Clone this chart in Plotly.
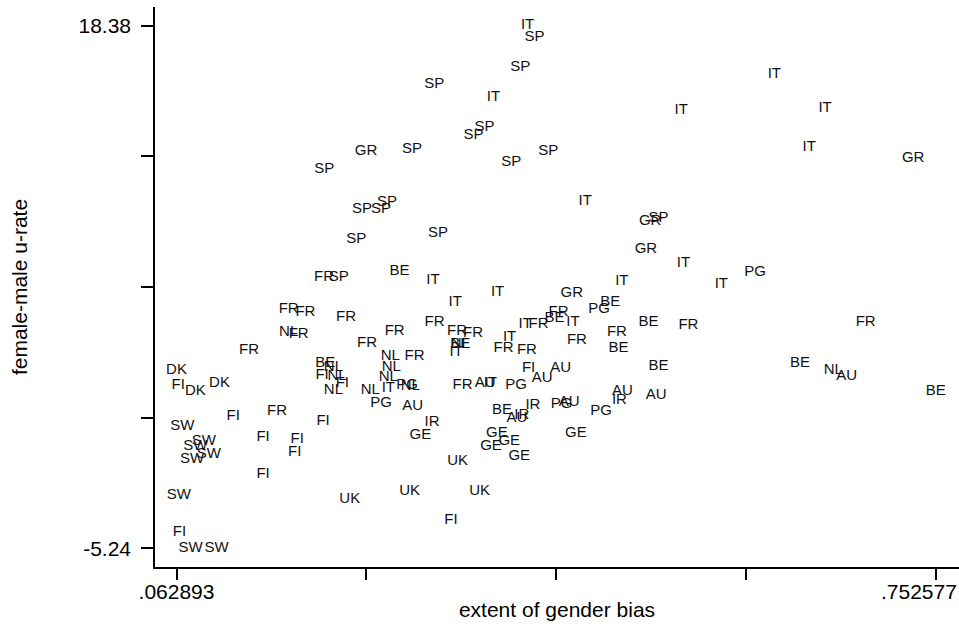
import plotly.graph_objects as go

# ---- data (extent of gender bias, female-male unemployment rate gap, country code) ----
countries = (
    ["SP"] * 16 + ["IT"] * 19 + ["GR"] * 5 + ["PG"] * 7 + ["BE"] * 11 + ["NL"] * 11
    + ["FI"] * 12 + ["DK"] * 3 + ["SW"] * 8 + ["UK"] * 4 + ["GE"] * 6 + ["IR"] * 4
    + ["AU"] * 9 + ["FR"] * 22
)

gender_bias = [
    # SP
    0.3878, 0.3749, 0.2969, 0.3425, 0.3325, 0.4003, 0.3667, 0.2766, 0.1971, 0.2313,
    0.2485, 0.2540, 0.2261, 0.3002, 0.2101, 0.5003,
    # IT
    0.3815, 0.3506, 0.5209, 0.6055, 0.6515, 0.6372, 0.4338, 0.5230, 0.5574, 0.2957,
    0.3543, 0.3159, 0.4671, 0.4227, 0.3794, 0.3652, 0.3168, 0.3477, 0.2552,
    # GR
    0.2349, 0.7315, 0.4928, 0.4889, 0.4217,
    # PG
    0.5880, 0.4465, 0.2721, 0.3712, 0.2485, 0.4123, 0.4483,
    # BE
    0.2654, 0.4565, 0.4060, 0.3204, 0.4640, 0.4912, 0.5003, 0.1980, 0.3583, 0.6288,
    0.7519,
    # NL
    0.3204, 0.1647, 0.2053, 0.2086, 0.2053, 0.2570, 0.2579, 0.2552, 0.2388, 0.2751,
    0.6590,
    # FI
    0.1950, 0.2134, 0.0644, 0.1143, 0.1959, 0.1415, 0.1724, 0.1702, 0.1415, 0.0656,
    0.3824, 0.3120,
    # DK
    0.0629, 0.0801, 0.1019,
    # SW
    0.0681, 0.0877, 0.0801, 0.0922, 0.0771, 0.0650, 0.0756, 0.0992,
    # UK
    0.2201, 0.2745, 0.3180, 0.3380,
    # GE
    0.2842, 0.3537, 0.3649, 0.3483, 0.3740, 0.4254,
    # IR
    0.2948, 0.3864, 0.3762, 0.4649,
    # AU
    0.2772, 0.3431, 0.3948, 0.4116, 0.3719, 0.4193, 0.4676, 0.4982, 0.6711,
    # FR
    0.1968, 0.1647, 0.1799, 0.2168, 0.2971, 0.1738, 0.2609, 0.2358, 0.1288, 0.2790,
    0.1542, 0.4096, 0.3915, 0.3175, 0.3320, 0.3597, 0.3809, 0.4263, 0.4626, 0.5275,
    0.6884, 0.3225,
]

urate_gap = [
    # SP
    17.85, 16.50, 15.74, 13.77, 13.44, 12.72, 12.23, 12.79, 11.90, 10.08,
    10.09, 10.40, 8.74, 9.00, 7.01, 9.67,
    # IT
    18.38, 15.13, 14.57, 16.20, 14.65, 12.87, 10.46, 7.63, 6.71, 6.89,
    6.33, 5.88, 6.81, 4.97, 4.88, 4.30, 3.60, 2.22, 1.99,
    # GR
    12.69, 12.41, 9.52, 8.27, 6.31,
    # PG
    7.23, 5.58, 2.14, 2.14, 1.31, 1.27, 0.97,
    # BE
    7.26, 5.88, 5.16, 3.98, 3.80, 4.96, 2.97, 3.12, 0.98, 3.12,
    1.87,
    # NL
    3.98, 4.52, 2.95, 2.52, 1.89, 3.42, 2.95, 2.48, 1.89, 2.10,
    2.82,
    # FI
    2.59, 2.23, 2.14, 0.71, 0.51, -0.20, -0.30, -0.92, -1.90, -4.53,
    2.92, -3.99,
    # DK
    2.80, 1.87, 2.22,
    # SW
    0.26, -0.39, -0.62, -0.99, -1.22, -2.83, -5.24, -5.24,
    # UK
    -3.01, -2.65, -1.29, -2.64,
    # GE
    -0.12, -0.04, -0.39, -0.65, -1.10, -0.04,
    # IR
    0.44, 1.24, 0.78, 1.46,
    # AU
    1.16, 2.22, 2.44, 2.89, 0.62, 1.34, 1.87, 1.69, 2.52,
    # FR
    7.01, 5.58, 5.41, 5.21, 4.97, 4.43, 4.59, 4.05, 3.69, 3.42,
    0.97, 5.43, 4.88, 4.59, 4.50, 3.80, 3.69, 4.17, 4.52, 4.85,
    4.97, 2.14,
]

x_min, x_max = 0.062893, 0.752577
y_min, y_max = -5.24, 18.38
# the last x label is kept inside the page (as in the original) with trailing figure spaces
x_tick_text = [".062893", "", "", "", ".752577\u2007\u2007\u2007"]
y_tick_text = ["-5.24", "", "", "", "18.38"]

FONT = "Liberation Sans, Arial, sans-serif"

fig = go.Figure(
    go.Scatter(
        x=gender_bias,
        y=urate_gap,
        mode="text",
        text=countries,
        textposition="middle center",
        textfont=dict(family=FONT, size=15, color="#111111"),
        hoverinfo="skip",
        showlegend=False,
    )
)

xstep = (x_max - x_min) / 4
ystep = (y_max - y_min) / 4
xpad = (x_max - x_min) * 0.0283
ypad = (y_max - y_min) * 0.0358

fig.update_xaxes(
    range=[x_min - xpad, x_max + xpad * 1.05],
    tickvals=[x_min + i * xstep for i in range(5)],
    ticktext=x_tick_text,
    ticks="outside",
    ticklen=11,
    tickwidth=1.5,
    tickcolor="black",
    showline=True,
    linecolor="black",
    linewidth=1.5,
    showgrid=False,
    zeroline=False,
    tickfont=dict(family=FONT, size=21, color="black"),
    ticklabelstandoff=-6,
    ticklabeloverflow="allow",
    title=dict(text="extent of gender bias", font=dict(family=FONT, size=21, color="black"), standoff=0),
    automargin=False,
)
fig.update_yaxes(
    range=[y_min - ypad, y_max + ypad],
    tickvals=[y_min + i * ystep for i in range(5)],
    ticktext=y_tick_text,
    ticks="outside",
    ticklen=12,
    tickwidth=1.5,
    tickcolor="black",
    showline=True,
    linecolor="black",
    linewidth=1.5,
    showgrid=False,
    zeroline=False,
    tickfont=dict(family=FONT, size=21, color="black"),
    ticklabelstandoff=6,
    title=dict(text="female-male u-rate", font=dict(family=FONT, size=21, color="black"), standoff=45),
    automargin=False,
)

fig.update_layout(
    width=959,
    height=628,
    margin=dict(l=155, r=0, t=7, b=61),
    plot_bgcolor="white",
    paper_bgcolor="white",
)

fig.write_html(
    "out.html",
    config={"displayModeBar": False},
    post_script="document.body.style.margin='0';",
)
